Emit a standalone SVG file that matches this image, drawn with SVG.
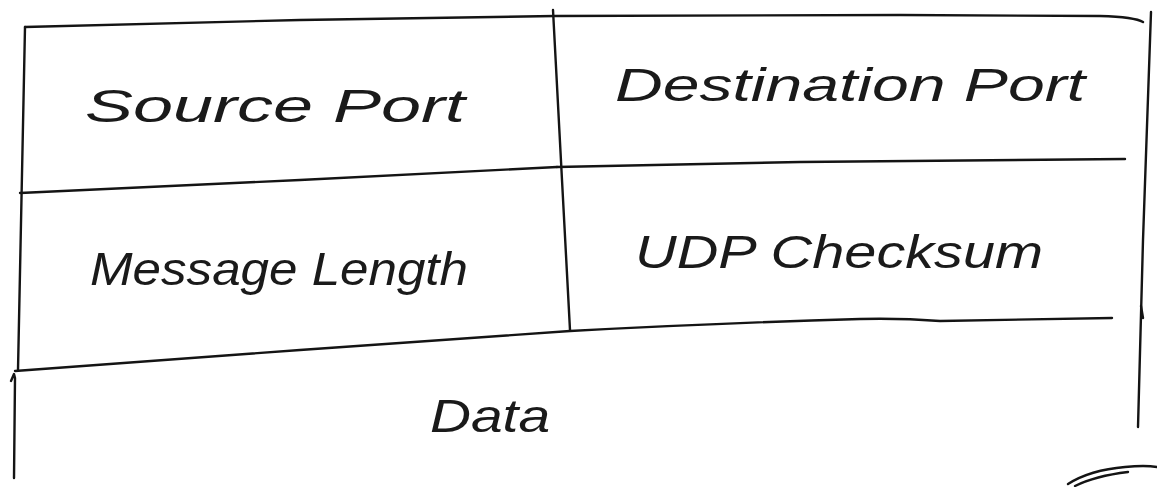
<svg xmlns="http://www.w3.org/2000/svg" width="1157" height="487" viewBox="0 0 1157 487">
<style>
.ln{fill:none;stroke:#141414;stroke-width:2.4;stroke-linecap:round;stroke-linejoin:round}
.t{font-family:"Liberation Sans","DejaVu Sans",sans-serif;font-style:italic;font-size:46px;fill:#1a1a1a}
</style>
<rect width="1157" height="487" fill="#ffffff"/>
<g id="grid">
<path class="ln" d="M25,27 L300,20 L555,16 L900,15 L1100,16 Q1135,17 1143,22"/>
<path class="ln" d="M25,27 L18,370"/>
<path class="ln" d="M553,10 L562,180 L570,330"/>
<path class="ln" d="M1151,12 L1143,240 L1138,427"/>
<path class="ln" d="M1141,306 L1143,318"/>
<path class="ln" d="M20,193 L300,180 L557,167"/>
<path class="ln" d="M557,167 L800,162 L1125,159"/>
<path class="ln" d="M15,371 L300,350 L570,331 Q720,323 860,319 Q900,318 940,321 L1112,318"/>
<path class="ln" d="M11,381 L14,374 L15,378 L14,478"/>
<path class="ln" d="M1068,484 Q1090,470 1125,467 Q1145,465 1157,467" stroke-width="1.6"/>
<path class="ln" d="M1075,486 Q1095,476 1128,472" stroke-width="1.2"/>
</g>
<g id="source-port"><text class="t" x="85" y="122" textLength="380" lengthAdjust="spacingAndGlyphs">Source Port</text></g>
<g id="destination-port"><text class="t" x="615" y="101" textLength="470" lengthAdjust="spacingAndGlyphs">Destination Port</text></g>
<g id="message-length"><text class="t" x="90" y="285" textLength="378" lengthAdjust="spacingAndGlyphs">Message Length</text></g>
<g id="udp-checksum"><text class="t" x="635" y="268" textLength="408" lengthAdjust="spacingAndGlyphs">UDP Checksum</text></g>
<g id="data"><text class="t" x="430" y="432" textLength="120" lengthAdjust="spacingAndGlyphs">Data</text></g>
</svg>
